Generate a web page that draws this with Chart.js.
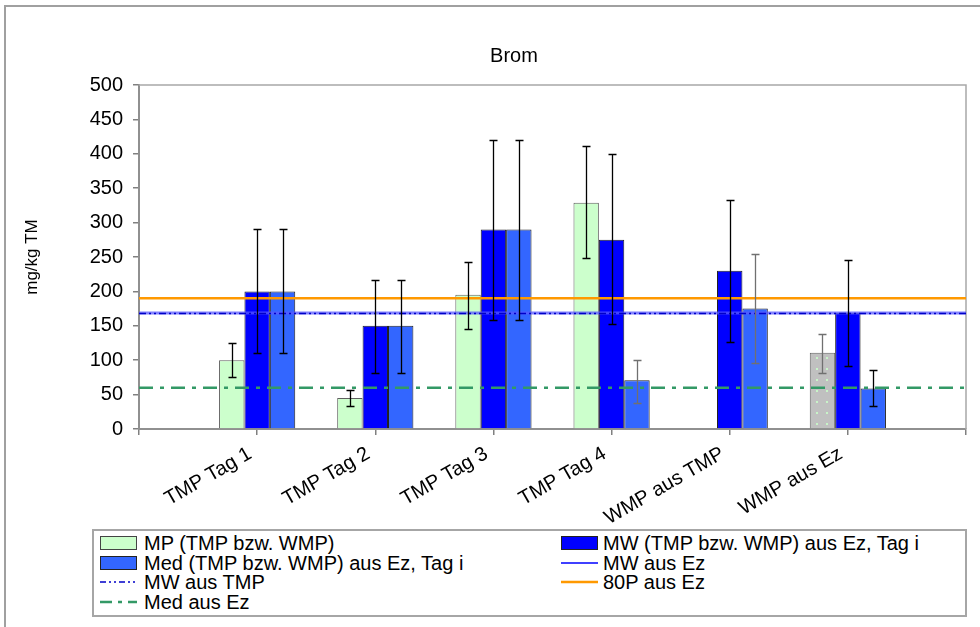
<!DOCTYPE html>
<html><head><meta charset="utf-8">
<script src="https://cdn.jsdelivr.net/npm/chart.js@4.4.0/dist/chart.umd.min.js"></script>
<style>
html,body{margin:0;padding:0;background:#fff;overflow:hidden;width:980px;height:627px;}
#wrap{position:relative;width:980px;height:627px;overflow:hidden;font-family:"Liberation Sans",Arial,sans-serif;}
#frame{position:absolute;left:4px;top:5px;width:1000px;height:700px;border:2px solid #a0a0a0;box-sizing:border-box;}
canvas{position:absolute;left:0;top:0;}
#title{position:absolute;top:43px;left:514px;transform:translateX(-50%);font-size:20px;line-height:24px;white-space:nowrap;}
#legend{position:absolute;left:92px;top:529px;width:875px;height:88px;border:2px solid #a6a6a6;box-sizing:border-box;background:#fff;}
.txt{position:absolute;font-size:20px;line-height:20px;white-space:nowrap;color:#000;}
.box{position:absolute;width:35px;height:12px;border:1px solid #333;}
svg{position:absolute;overflow:visible;}
</style>
</head><body>
<div id="wrap">
  <div id="frame"></div>
  <canvas id="c" width="980" height="627"></canvas>
  <div id="title">Brom</div>
  <div id="legend"></div>
  <div id="legItems"></div>
</div>
<script>
// ---- data ----
const categories = ['TMP Tag 1','TMP Tag 2','TMP Tag 3','TMP Tag 4','WMP aus TMP','WMP aus Ez'];
const mpValues  = [100, 45, 195, 329, 0, 111];
const mpLow     = [75, 33, 146, 248, null, 82];
const mpHigh    = [125, 56, 243, 411, null, 138];
const mwValues  = [200, 150, 290, 275, 230, 169];
const mwLow     = [110, 82, 159, 153, 126, 92];
const mwHigh    = [290, 217, 420, 400, 333, 245];
const medValues = [200, 150, 290, 71, 175, 59];
const medLow    = [110, 82, 159, 38, 96, 33];
const medHigh   = [290, 217, 420, 101, 254, 86];
const mwAusTmp = 168;
const mwAusEz = 168.5;
const p80AusEz = 190;
const medAusEz = 60;
const yTickValues = [0,50,100,150,200,250,300,350,400,450,500];

const labels = ['', ...categories, ''];
const pad = a => [null, ...a, null];
const constLine = v => labels.map(() => v);

// dotted pattern for the WMP aus Ez MP bar
const pc = document.createElement('canvas');
pc.width = 10; pc.height = 11;
const pctx = pc.getContext('2d');
pctx.fillStyle = '#c0c0c0'; pctx.fillRect(0,0,10,11);
pctx.fillStyle = '#c8f5c8'; pctx.fillRect(6,5,2,2);
const dotPattern = pctx.createPattern(pc, 'repeat');

const mpColors = pad(mpValues.map((v,i) => i === 5 ? dotPattern : '#ccffcc'));
const errGray = '#707070';

const errorBarPlugin = {
  id: 'errorBars',
  afterDatasetsDraw(chart) {
    const ctx = chart.ctx, ys = chart.scales.y;
    chart.data.datasets.forEach((ds, i) => {
      if (!ds.errLow) return;
      const meta = chart.getDatasetMeta(i);
      meta.data.forEach((el, j) => {
        const lo = ds.errLow[j], hi = ds.errHigh[j];
        if (lo == null || hi == null) return;
        const x = Math.round(el.x) + 0.5;
        const y1 = Math.round(ys.getPixelForValue(lo)) + 0.5;
        const y2 = Math.round(ys.getPixelForValue(hi)) + 0.5;
        ctx.save();
        ctx.strokeStyle = (ds.errColor && ds.errColor[j]) || '#000';
        ctx.lineWidth = 1.3;
        ctx.beginPath();
        ctx.moveTo(x, y1); ctx.lineTo(x, y2);
        ctx.moveTo(x-4, y1); ctx.lineTo(x+4, y1);
        ctx.moveTo(x-4, y2); ctx.lineTo(x+4, y2);
        ctx.stroke();
        ctx.restore();
      });
    });
  }
};
const framePlugin = {
  id: 'frame',
  beforeDatasetsDraw(chart) {
    const {ctx, chartArea: a} = chart;
    ctx.save();
    ctx.strokeStyle = '#a8a8a8'; ctx.lineWidth = 1.5;
    ctx.beginPath();
    ctx.moveTo(a.left, a.top); ctx.lineTo(a.right, a.top); ctx.lineTo(a.right, a.bottom);
    ctx.stroke();
    ctx.restore();
  }
};

Chart.defaults.font.family = '"Liberation Sans", Arial, sans-serif';
Chart.defaults.color = '#000';

new Chart(document.getElementById('c'), {
  type: 'bar',
  data: {
    labels,
    datasets: [
      { label: 'MP (TMP bzw. WMP)', data: pad(mpValues), backgroundColor: mpColors, borderColor: '#606060', borderWidth: 1,
        errLow: pad(mpLow), errHigh: pad(mpHigh), errColor: pad(['#000','#000','#000','#000','#000',errGray]) },
      { label: 'MW (TMP bzw. WMP) aus Ez, Tag i', data: pad(mwValues), backgroundColor: '#0000ff', borderColor: '#202020', borderWidth: 1,
        errLow: pad(mwLow), errHigh: pad(mwHigh) },
      { label: 'Med (TMP bzw. WMP) aus Ez, Tag i', data: pad(medValues), backgroundColor: '#3366ff', borderColor: '#202020', borderWidth: 1,
        errLow: pad(medLow), errHigh: pad(medHigh), errColor: pad(['#000','#000','#000',errGray,errGray,'#000']) },
      { type: 'line', label: 'MW aus Ez', data: constLine(mwAusEz), borderColor: 'rgba(90,90,255,0.75)', borderWidth: 3, pointRadius: 0, fill: false, order: -1 },
      { type: 'line', label: 'MW aus TMP', data: constLine(mwAusTmp), borderColor: '#0000c8', borderWidth: 1.5, borderDash: [7,3,2,3,2,3], pointRadius: 0, fill: false, order: -2 },
      { type: 'line', label: '80P aus Ez', data: constLine(p80AusEz), borderColor: '#ff9900', borderWidth: 2.5, pointRadius: 0, fill: false, order: -1 },
      { type: 'line', label: 'Med aus Ez', data: constLine(medAusEz), borderColor: '#339966', borderWidth: 2.5, borderDash: [14,7,4,7], pointRadius: 0, fill: false, order: -1 }
    ]
  },
  options: {
    responsive: false,
    animation: false,
    events: [],
    layout: { padding: { left: 0, right: 14, top: 85, bottom: 0 } },
    datasets: { bar: { categoryPercentage: 0.645, barPercentage: 1.0 } },
    plugins: { legend: { display: false }, title: { display: false }, tooltip: { enabled: false } },
    scales: {
      x: {
        type: 'category',
        offset: false,
        grid: { offset: false, drawOnChartArea: false, drawTicks: true, tickLength: 6, color: '#808080', lineWidth: 1.5 },
        border: { color: '#909090', width: 2 },
        ticks: { autoSkip: false, minRotation: 30, maxRotation: 30, font: { size: 20 }, padding: 7, labelOffset: -7, color: '#000' },
        afterFit(s) { s.height = 198; s.paddingLeft = 0; s.paddingRight = 0; }
      },
      y: {
        min: 0, max: 500,
        afterBuildTicks(s) { s.ticks = yTickValues.map(v => ({ value: v })); },
        grid: { drawOnChartArea: false, drawTicks: true, tickLength: 6, color: '#808080', lineWidth: 1.5 },
        border: { color: '#909090', width: 2 },
        ticks: { font: { size: 20 }, padding: 10, color: '#000' },
        title: { display: true, text: 'mg/kg TM', font: { size: 17 }, padding: { top: 22, bottom: 0 }, color: '#000' },
        afterFit(s) { s.width = 139; }
      }
    }
  },
  plugins: [framePlugin, errorBarPlugin]
});

// ---- HTML legend ----
const legendItems = [
  { kind: 'box', fill: '#ccffcc', border: '#444', text: 'MP (TMP bzw. WMP)', col: 0, row: 0 },
  { kind: 'box', fill: '#0000ff', border: '#222', text: 'MW (TMP bzw. WMP) aus Ez, Tag i', col: 1, row: 0 },
  { kind: 'box', fill: '#3366ff', border: '#222', text: 'Med (TMP bzw. WMP) aus Ez, Tag i', col: 0, row: 1 },
  { kind: 'line', color: '#0000ff', width: 1.5, dash: '', text: 'MW aus Ez', col: 1, row: 1 },
  { kind: 'line', color: '#0000c8', width: 1.5, dash: '6,3,2,3,2,3', text: 'MW aus TMP', col: 0, row: 2 },
  { kind: 'line', color: '#ff9900', width: 2.5, dash: '', text: '80P aus Ez', col: 1, row: 2 },
  { kind: 'line', color: '#339966', width: 2.5, dash: '12,6,4,6', text: 'Med aus Ez', col: 0, row: 3 }
];
const colSw = [100, 561], colTx = [144, 603];
const rowY = [543, 563, 582, 602];
const host = document.getElementById('legItems');
legendItems.forEach(it => {
  const cy = rowY[it.row];
  if (it.kind === 'box') {
    const b = document.createElement('div');
    b.className = 'box';
    b.style.left = colSw[it.col] + 'px'; b.style.top = (cy - 7) + 'px';
    b.style.background = it.fill; b.style.borderColor = it.border;
    host.appendChild(b);
  } else {
    const ns = 'http://www.w3.org/2000/svg';
    const s = document.createElementNS(ns, 'svg');
    s.setAttribute('width', '38'); s.setAttribute('height', '6');
    s.style.left = colSw[it.col] + 'px'; s.style.top = (cy - 3) + 'px';
    const l = document.createElementNS(ns, 'line');
    l.setAttribute('x1', '0'); l.setAttribute('x2', '37'); l.setAttribute('y1', '3'); l.setAttribute('y2', '3');
    l.setAttribute('stroke', it.color); l.setAttribute('stroke-width', it.width);
    if (it.dash) l.setAttribute('stroke-dasharray', it.dash);
    s.appendChild(l); host.appendChild(s);
  }
  const t = document.createElement('div');
  t.className = 'txt';
  t.style.left = colTx[it.col] + 'px'; t.style.top = (cy - 10) + 'px';
  t.textContent = it.text;
  host.appendChild(t);
});
</script>
</body></html>
